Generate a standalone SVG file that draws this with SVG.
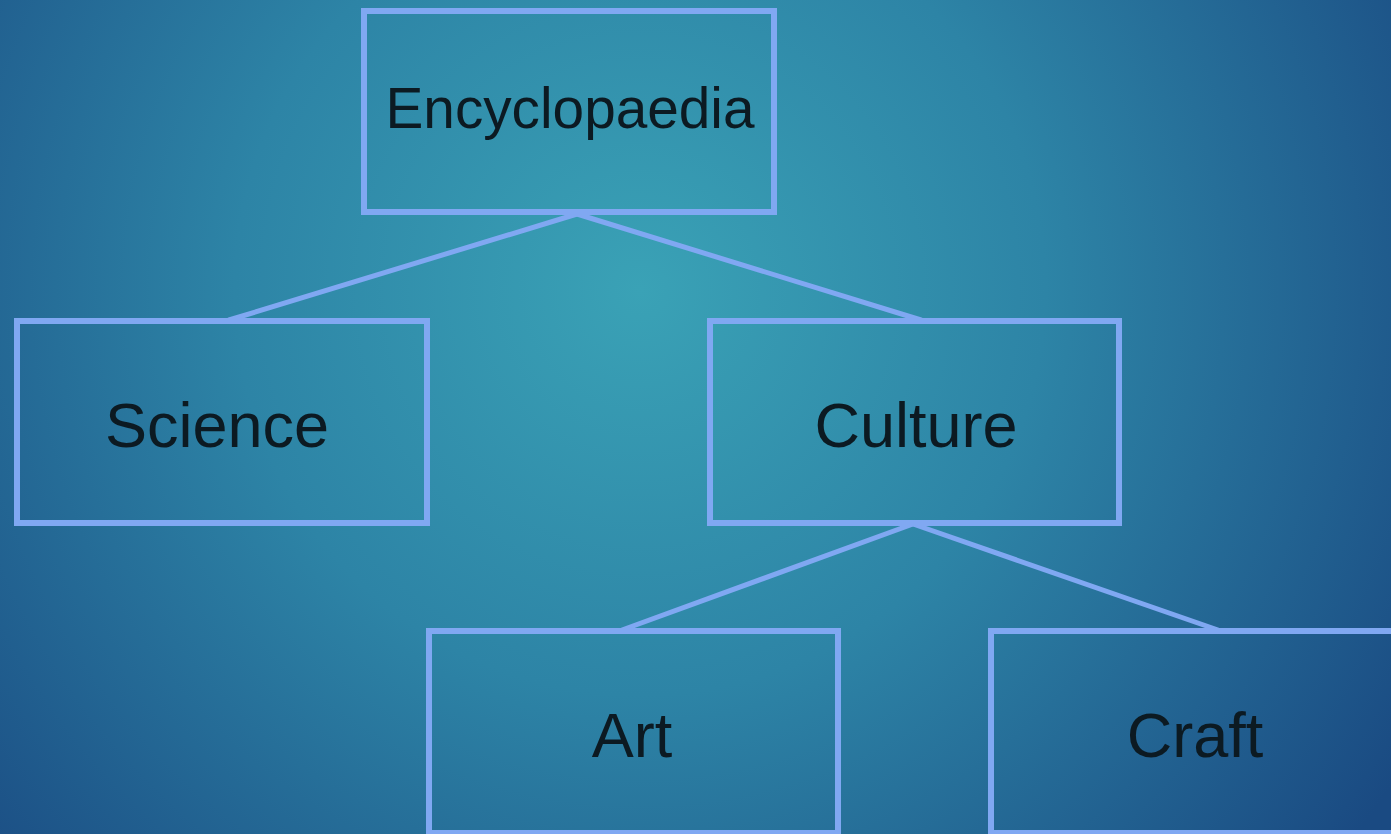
<svg xmlns="http://www.w3.org/2000/svg" width="1391" height="834" viewBox="0 0 1391 834">
<defs>
<radialGradient id="bg" gradientUnits="userSpaceOnUse" cx="640" cy="290" r="900">
<stop offset="0" stop-color="#3aa2b6"/>
<stop offset="0.45" stop-color="#2d84a6"/>
<stop offset="1" stop-color="#1a4a82"/>
</radialGradient>
<style>
.box{fill:none;stroke:#80a8f2;stroke-width:6}
.lbl{font-family:"Liberation Sans",Arial,sans-serif;font-size:63px;fill:#0c1a22;text-anchor:middle}
.conn line{stroke:#80a8f2;stroke-width:5;stroke-linecap:round}
</style>
</defs>
<rect x="0" y="0" width="1391" height="834" fill="url(#bg)"/>
<g id="connectors" class="conn">
<line x1="577" y1="214" x2="229" y2="320"/>
<line x1="577" y1="214" x2="921" y2="320"/>
<line x1="913" y1="524" x2="622" y2="630"/>
<line x1="913" y1="524" x2="1218" y2="630"/>
</g>
<g id="encyclopaedia">
<rect class="box" x="364" y="11" width="410" height="201"/>
<text class="lbl" x="570" y="128" style="font-size:58px" textLength="369" lengthAdjust="spacingAndGlyphs">Encyclopaedia</text>
</g>
<g id="science">
<rect class="box" x="17" y="321" width="410" height="202"/>
<text class="lbl" x="217" y="447">Science</text>
</g>
<g id="culture">
<rect class="box" x="710" y="321" width="409" height="202"/>
<text class="lbl" x="916" y="447">Culture</text>
</g>
<g id="art">
<rect class="box" x="429" y="631" width="409" height="202"/>
<text class="lbl" x="632" y="757">Art</text>
</g>
<g id="craft">
<rect class="box" x="991" y="631" width="410" height="202"/>
<text class="lbl" x="1195" y="757">Craft</text>
</g>
</svg>
